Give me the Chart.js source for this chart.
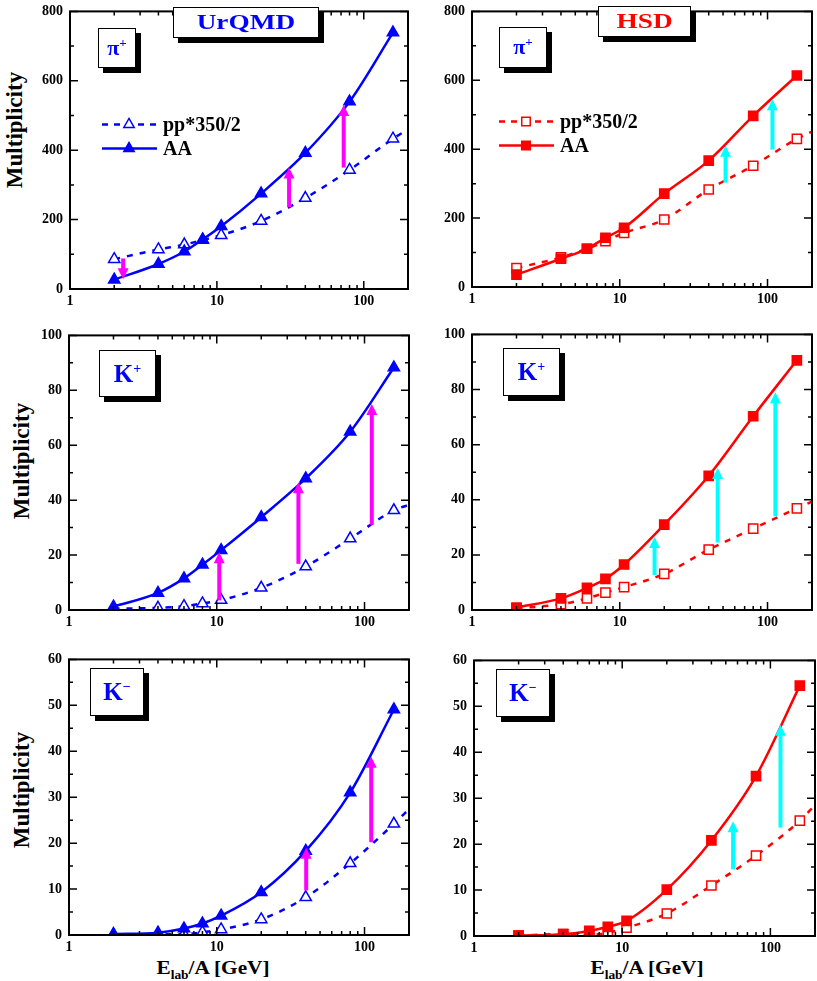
<!DOCTYPE html>
<html>
<head>
<meta charset="utf-8">
<script src="https://cdn.jsdelivr.net/npm/chart.js@4.4.1/dist/chart.umd.min.js"></script>
<style>
  body { margin: 0; background: #fff; width: 817px; height: 981px; position: relative; overflow: hidden;
         font-family: 'Liberation Serif', 'Times New Roman', serif; }
  canvas { position: absolute; z-index: 1; }
  .box { position: absolute; z-index: 2; background: #fff; border: 1.5px solid #000; box-shadow: 5px 5px 0 #000;
         box-sizing: border-box; font-weight: bold; color: #0000ff; white-space: nowrap;
         display: flex; align-items: center; justify-content: center; }
  .box span.t { display: inline-block; }
  .ytitle { position: absolute; font-weight: bold; font-size: 23px; white-space: nowrap;
            transform: translate(-50%, -50%) rotate(-90deg); }
  .xtitle { position: absolute; font-weight: bold; font-size: 19px; white-space: nowrap;
            transform: translateX(-50%) scaleX(1.12); }
  .xtitle sub { font-size: 12px; }
</style>
</head>
<body>

<div class="box" style="left:173px;top:7px;width:146px;height:31px;font-size:21px;"><span class="t" style="transform:scaleX(1.3)">UrQMD</span></div>
<div class="box" style="left:598px;top:6px;width:93px;height:31px;font-size:21px;color:#ff0000;"><span class="t" style="transform:scaleX(1.3)">HSD</span></div>

<div class="box" style="left:98px;top:28px;width:38px;height:40px;font-size:22px;"><span>π<sup style="font-size:13px">+</sup></span></div>
<div class="box" style="left:499px;top:27px;width:48px;height:41px;font-size:22px;"><span>π<sup style="font-size:13px">+</sup></span></div>
<div class="box" style="left:99px;top:350px;width:57px;height:47px;font-size:25px;"><span>K<sup style="font-size:14px">+</sup></span></div>
<div class="box" style="left:503px;top:348px;width:57px;height:48px;font-size:25px;"><span>K<sup style="font-size:14px">+</sup></span></div>
<div class="box" style="left:90px;top:668px;width:54px;height:48px;font-size:25px;"><span>K<sup style="font-size:14px">−</sup></span></div>
<div class="box" style="left:496px;top:669px;width:54px;height:48px;font-size:25px;"><span>K<sup style="font-size:14px">−</sup></span></div>

<div class="ytitle" style="left:15px;top:130px;">Multiplicity</div>
<div class="ytitle" style="left:22px;top:461px;">Multiplicity</div>
<div class="ytitle" style="left:22px;top:790px;">Multiplicity</div>

<div class="xtitle" style="left:213px;top:957px;">E<sub>lab</sub>/A [GeV]</div>
<div class="xtitle" style="left:647px;top:957px;">E<sub>lab</sub>/A [GeV]</div>

<script>
// beam energies (GeV per nucleon) of the calculated points
const energies = [2, 4, 6, 8, 10.7, 20, 40, 80, 158];
// the pp*350/2 curve runs on to the right frame edge
const ppEnergies = [2, 4, 6, 8, 10.7, 20, 40, 80, 158, 200];

const urqmdPiAA = [27, 72, 108, 143, 181, 275, 392, 540, 739];
const urqmdPiPP = [86, 114, 128, 141, 155, 196, 262, 343, 433, 460];
const hsdPiAA = [36, 82, 111, 143, 172, 271, 367, 497, 614];
const hsdPiPP = [55, 86, 111, 133, 157, 196, 283, 352, 430, 451];

const urqmdKpAA = [1.2, 6.2, 11.5, 16.5, 21.8, 33.8, 47.9, 64.9, 88.3];
const urqmdKpPP = [0.5, 0.8, 1.4, 2.4, 3.6, 8.1, 15.8, 26, 36.3, 38.3];
const hsdKpAA = [0.9, 4.2, 8, 11.3, 16.5, 31, 48.7, 70.3, 90.6];
const hsdKpPP = [0.6, 2.1, 4.2, 6.3, 8.3, 13.1, 21.9, 29.5, 36.9, 39.3];

const urqmdKmAA = [0.2, 0.5, 1.4, 2.5, 4.2, 9.3, 18.3, 31, 49.1];
const urqmdKmPP = [0.1, 0.15, 0.2, 0.6, 1.2, 3.4, 8.2, 15.6, 24.2, 27.4];
const hsdKmAA = [0.1, 0.4, 1.1, 2, 3.3, 10.1, 20.8, 34.8, 54.5];
const hsdKmPP = [0.1, 0.4, 0.3, 0.7, 1.8, 4.9, 11, 17.5, 25.1, 28.5];

// arrows: [energy, from, to]
const urqmdPiArrows = [[2.3, 88, 28], [31, 236, 350], [73, 350, 530]];
const hsdPiArrows = [[52, 303, 410], [108, 399, 545]];
const urqmdKpArrows = [[10.4, 3.5, 21], [35.7, 16.8, 46.5], [112, 31, 75]];
const hsdKpArrows = [[17.2, 12.7, 26.5], [46, 24.5, 51.5], [113, 34, 79]];
const urqmdKmArrows = [[40.3, 9.7, 19], [111, 20.2, 38.8]];
const hsdKmArrows = [[56, 14.5, 25], [117, 23.6, 46]];

// tick values
const xLabels = [1, 10, 100];
const xMinor = [2, 3, 4, 5, 6, 7, 8, 9, 20, 30, 40, 50, 60, 70, 80, 90];
const piTicks = [0, 200, 400, 600, 800];
const piMinor = [100, 300, 500, 700];
const kpTicks = [0, 20, 40, 60, 80, 100];
const kpMinor = [10, 30, 50, 70, 90];
const kmTicks = [0, 10, 20, 30, 40, 50, 60];
const kmMinor = [5, 15, 25, 35, 45, 55];

const BLUE = '#0000ff', RED = '#ff0000', MAGENTA = '#ff00ff', CYAN = '#00ffff';
const AXW = 60, AXH = 24, PADT = 12, PADR = 8;
const tickFont = { family: "'Liberation Serif', serif", size: 14, weight: 'bold' };

function marker(ctx, style, x, y, r) {
    ctx.beginPath();
    if (style === 'triangle') {
        ctx.moveTo(x, y - r);
        ctx.lineTo(x + r * 0.866, y + r * 0.5);
        ctx.lineTo(x - r * 0.866, y + r * 0.5);
        ctx.closePath();
    } else {
        const s = r * Math.SQRT1_2;
        ctx.rect(x - s, y - s, 2 * s, 2 * s);
    }
    ctx.fill();
    ctx.stroke();
}

const framePlugin = {
    id: 'frame',
    afterDatasetsDraw(chart, args, opts) {
        const ctx = chart.ctx, a = chart.chartArea;
        const xs = chart.scales.x, ys = chart.scales.y;
        ctx.save();
        // arrows
        ctx.strokeStyle = opts.arrowColor;
        ctx.fillStyle = opts.arrowColor;
        opts.arrows.forEach(([e, from, to]) => {
            const px = xs.getPixelForValue(e);
            const p0 = ys.getPixelForValue(from), p1 = ys.getPixelForValue(to);
            const dir = p1 < p0 ? 1 : -1;
            const head = 10;
            ctx.lineWidth = 4;
            ctx.beginPath();
            ctx.moveTo(px, p0);
            ctx.lineTo(px, p1 + dir * head);
            ctx.stroke();
            ctx.beginPath();
            ctx.moveTo(px, p1);
            ctx.lineTo(px - 5.5, p1 + dir * (head + 1));
            ctx.lineTo(px + 5.5, p1 + dir * (head + 1));
            ctx.closePath();
            ctx.fill();
        });
        // frame
        ctx.strokeStyle = '#000';
        ctx.lineWidth = 2;
        ctx.strokeRect(a.left, a.top, a.right - a.left, a.bottom - a.top);
        // inward ticks on all four sides
        ctx.lineWidth = 1.5;
        const tx = (v, len) => {
            const p = xs.getPixelForValue(v);
            ctx.moveTo(p, a.bottom); ctx.lineTo(p, a.bottom - len);
            ctx.moveTo(p, a.top); ctx.lineTo(p, a.top + len);
        };
        const ty = (v, len) => {
            const p = ys.getPixelForValue(v);
            ctx.moveTo(a.left, p); ctx.lineTo(a.left + len, p);
            ctx.moveTo(a.right, p); ctx.lineTo(a.right - len, p);
        };
        ctx.beginPath();
        xLabels.forEach(v => tx(v, 8));
        xMinor.forEach(v => tx(v, 4));
        opts.yTicks.forEach(v => ty(v, 8));
        opts.yMinor.forEach(v => ty(v, 4));
        ctx.stroke();
        // legend
        if (opts.legend) {
            const lx = a.left + opts.legend.x, ly = a.top + opts.legend.y;
            ctx.font = "bold 20px 'Liberation Serif', serif";
            ctx.textBaseline = 'middle';
            [['pp*350/2', true, 0], ['AA', false, 24]].forEach(([txt, dashed, dy]) => {
                ctx.strokeStyle = opts.color;
                ctx.lineWidth = 2.5;
                ctx.setLineDash(dashed ? [6, 6] : []);
                ctx.beginPath();
                ctx.moveTo(lx, ly + dy);
                ctx.lineTo(lx + 55, ly + dy);
                ctx.stroke();
                ctx.setLineDash([]);
                ctx.lineWidth = 1.5;
                ctx.fillStyle = dashed ? '#fff' : opts.color;
                marker(ctx, opts.marker, lx + 27, ly + dy, 6);
                ctx.fillStyle = '#000';
                ctx.fillText(txt, lx + 61, ly + dy + 1);
            });
        }
        ctx.restore();
    }
};

function panel(p) {
    const W = AXW + (p.R - p.L) + PADR, H = PADT + (p.B - p.T) + AXH;
    const cv = document.createElement('canvas');
    cv.width = W; cv.height = H;
    cv.style.left = (p.L - AXW) + 'px';
    cv.style.top = (p.T - PADT) + 'px';
    cv.style.width = W + 'px';
    cv.style.height = H + 'px';
    document.body.appendChild(cv);

    new Chart(cv, {
        type: 'line',
        data: {
            datasets: [
                {
                    label: 'AA',
                    order: 0,
                    data: energies.map((e, i) => ({ x: e, y: p.aa[i] })),
                    borderColor: p.color,
                    borderWidth: 2.5,
                    pointStyle: p.marker,
                    pointRadius: 6.5,
                    pointBackgroundColor: p.color,
                    pointBorderColor: p.color,
                    pointBorderWidth: 1.5,
                    cubicInterpolationMode: 'monotone'
                },
                {
                    label: 'pp*350/2',
                    order: 1,
                    data: ppEnergies.map((e, i) => ({ x: e, y: p.pp[i] })),
                    borderColor: p.color,
                    borderWidth: 2.5,
                    borderDash: [6, 7],
                    pointStyle: p.marker,
                    pointRadius: ppEnergies.map(e => e > 160 ? 0 : 6.5),
                    pointBackgroundColor: '#fff',
                    pointBorderColor: p.color,
                    pointBorderWidth: 1.5,
                    cubicInterpolationMode: 'monotone'
                }
            ]
        },
        options: {
            responsive: false,
            animation: false,
            devicePixelRatio: 1,
            layout: { padding: { top: PADT, right: PADR, left: 0, bottom: 0 } },
            plugins: {
                legend: { display: false },
                tooltip: { enabled: false },
                frame: {
                    arrows: p.arrows, arrowColor: p.arrowColor, yTicks: p.yTicks, yMinor: p.yMinor,
                    legend: p.legend, color: p.color, marker: p.marker
                }
            },
            scales: {
                x: {
                    type: 'logarithmic', min: 1, max: 200,
                    afterFit: s => { s.height = AXH; },
                    afterBuildTicks: s => { s.ticks = xLabels.map(v => ({ value: v })); },
                    ticks: { callback: v => String(v), font: tickFont, color: '#000', padding: 4, maxRotation: 0, autoSkip: false },
                    grid: { display: false, drawTicks: false },
                    border: { display: false }
                },
                y: {
                    min: 0, max: p.ymax,
                    afterFit: s => { s.width = AXW; },
                    afterBuildTicks: s => { s.ticks = p.yTicks.map(v => ({ value: v })); },
                    ticks: { font: tickFont, color: '#000', padding: 7 },
                    grid: { display: false, drawTicks: false },
                    border: { display: false }
                }
            }
        },
        plugins: [framePlugin]
    });
}

panel({ L: 70, T: 8, R: 408, B: 289, aa: urqmdPiAA, pp: urqmdPiPP, color: BLUE, marker: 'triangle',
        arrows: urqmdPiArrows, arrowColor: MAGENTA, ymax: 800, yTicks: piTicks, yMinor: piMinor,
        legend: { x: 32, y: 113 } });
panel({ L: 472, T: 8, R: 812, B: 287, aa: hsdPiAA, pp: hsdPiPP, color: RED, marker: 'rect',
        arrows: hsdPiArrows, arrowColor: CYAN, ymax: 800, yTicks: piTicks, yMinor: piMinor,
        legend: { x: 27, y: 110 } });
panel({ L: 69, T: 332, R: 409, B: 610, aa: urqmdKpAA, pp: urqmdKpPP, color: BLUE, marker: 'triangle',
        arrows: urqmdKpArrows, arrowColor: MAGENTA, ymax: 100, yTicks: kpTicks, yMinor: kpMinor });
panel({ L: 472, T: 331, R: 812, B: 610, aa: hsdKpAA, pp: hsdKpPP, color: RED, marker: 'rect',
        arrows: hsdKpArrows, arrowColor: CYAN, ymax: 100, yTicks: kpTicks, yMinor: kpMinor });
panel({ L: 69, T: 656, R: 409, B: 935, aa: urqmdKmAA, pp: urqmdKmPP, color: BLUE, marker: 'triangle',
        arrows: urqmdKmArrows, arrowColor: MAGENTA, ymax: 60, yTicks: kmTicks, yMinor: kmMinor });
panel({ L: 474, T: 657, R: 815, B: 936, aa: hsdKmAA, pp: hsdKmPP, color: RED, marker: 'rect',
        arrows: hsdKmArrows, arrowColor: CYAN, ymax: 60, yTicks: kmTicks, yMinor: kmMinor });
</script>
</body>
</html>
